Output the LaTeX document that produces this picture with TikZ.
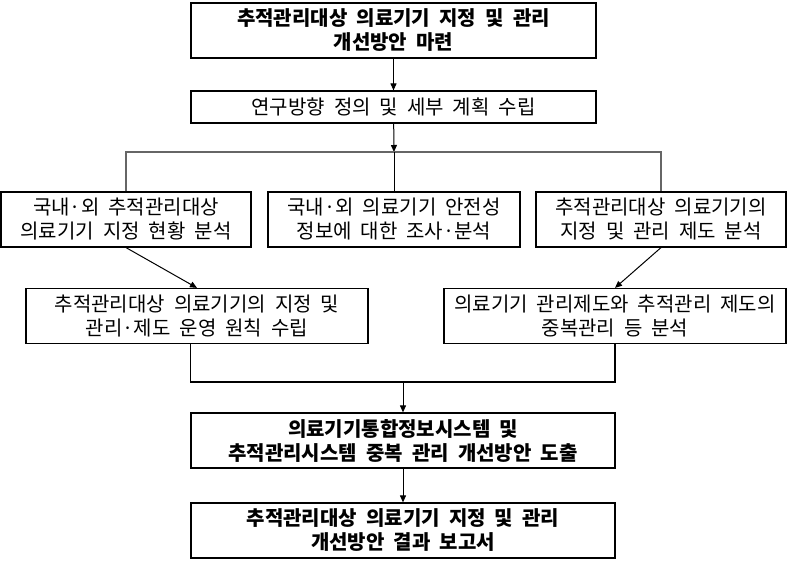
\documentclass[tikz,border=0pt]{standalone}
\usepackage{fontspec}
\setmainfont{Noto Sans CJK KR}[WordSpace=2]
\usetikzlibrary{arrows.meta}

\begin{document}
\begin{tikzpicture}[x=1pt, y=-1pt,
    every node/.style={draw, line width=1.2pt, align=center, inner sep=0pt, minimum height=55pt, font=\fontsize{20}{24}\selectfont},
    key/.style={font=\fontsize{20}{24}\selectfont\bfseries},
    arr/.style={-{Triangle[length=7pt,width=6pt]}, line width=1pt},
    branch/.style={line width=1.4pt, black!60}]
    \useasboundingbox (0,0) rectangle (788,564);

    \node [key, minimum width=405pt] (T) at (393.5,30.5) {추적관리대상 의료기기 지정 및 관리\\개선방안 마련};
    \node [minimum width=405pt, minimum height=32pt] (R) at (393.5,107) {연구방향 정의 및 세부 계획 수립};
    \node [minimum width=250pt] (A) at (126,219.5) {국내·외 추적관리대상\\의료기기 지정 현황 분석};
    \node [minimum width=252pt] (B) at (394,219.5) {국내·외 의료기기 안전성\\정보에 대한 조사·분석};
    \node [minimum width=250pt] (C) at (661,219.5) {추적관리대상 의료기기의\\지정 및 관리 제도 분석};
    \node [minimum width=342pt] (D) at (197,316) {추적관리대상 의료기기의 지정 및\\관리·제도 운영 원칙 수립};
    \node [minimum width=342pt] (E) at (615,316) {의료기기 관리제도와 추적관리 제도의\\중복관리 등 분석};
    \node [key, minimum width=424pt] (F) at (403,440.5) {의료기기통합정보시스템 및\\추적관리시스템 중복 관리 개선방안 도출};
    \node [key, minimum width=424pt] (G) at (403,530.5) {추적관리대상 의료기기 지정 및 관리\\개선방안 결과 보고서};

    \coordinate (split) at (394,152);
    \coordinate (join) at (403,382);

    \draw [arr] (T) -- (R);
    \draw [arr] (R) -- (split);
    \draw [branch] (A.north) |- (split) -| (C.north);
    \draw [line width=1pt] (split) -- (B.north);
    \draw [arr] (A.south) -- (D.north);
    \draw [arr] (C.south) -- (E.north);
    \draw [line width=1.2pt] (D.south -| F.west) |- (join) -| (E.south);
    \draw [arr] (join) -- (F);
    \draw [arr] (F) -- (G);
\end{tikzpicture}
\end{document}
